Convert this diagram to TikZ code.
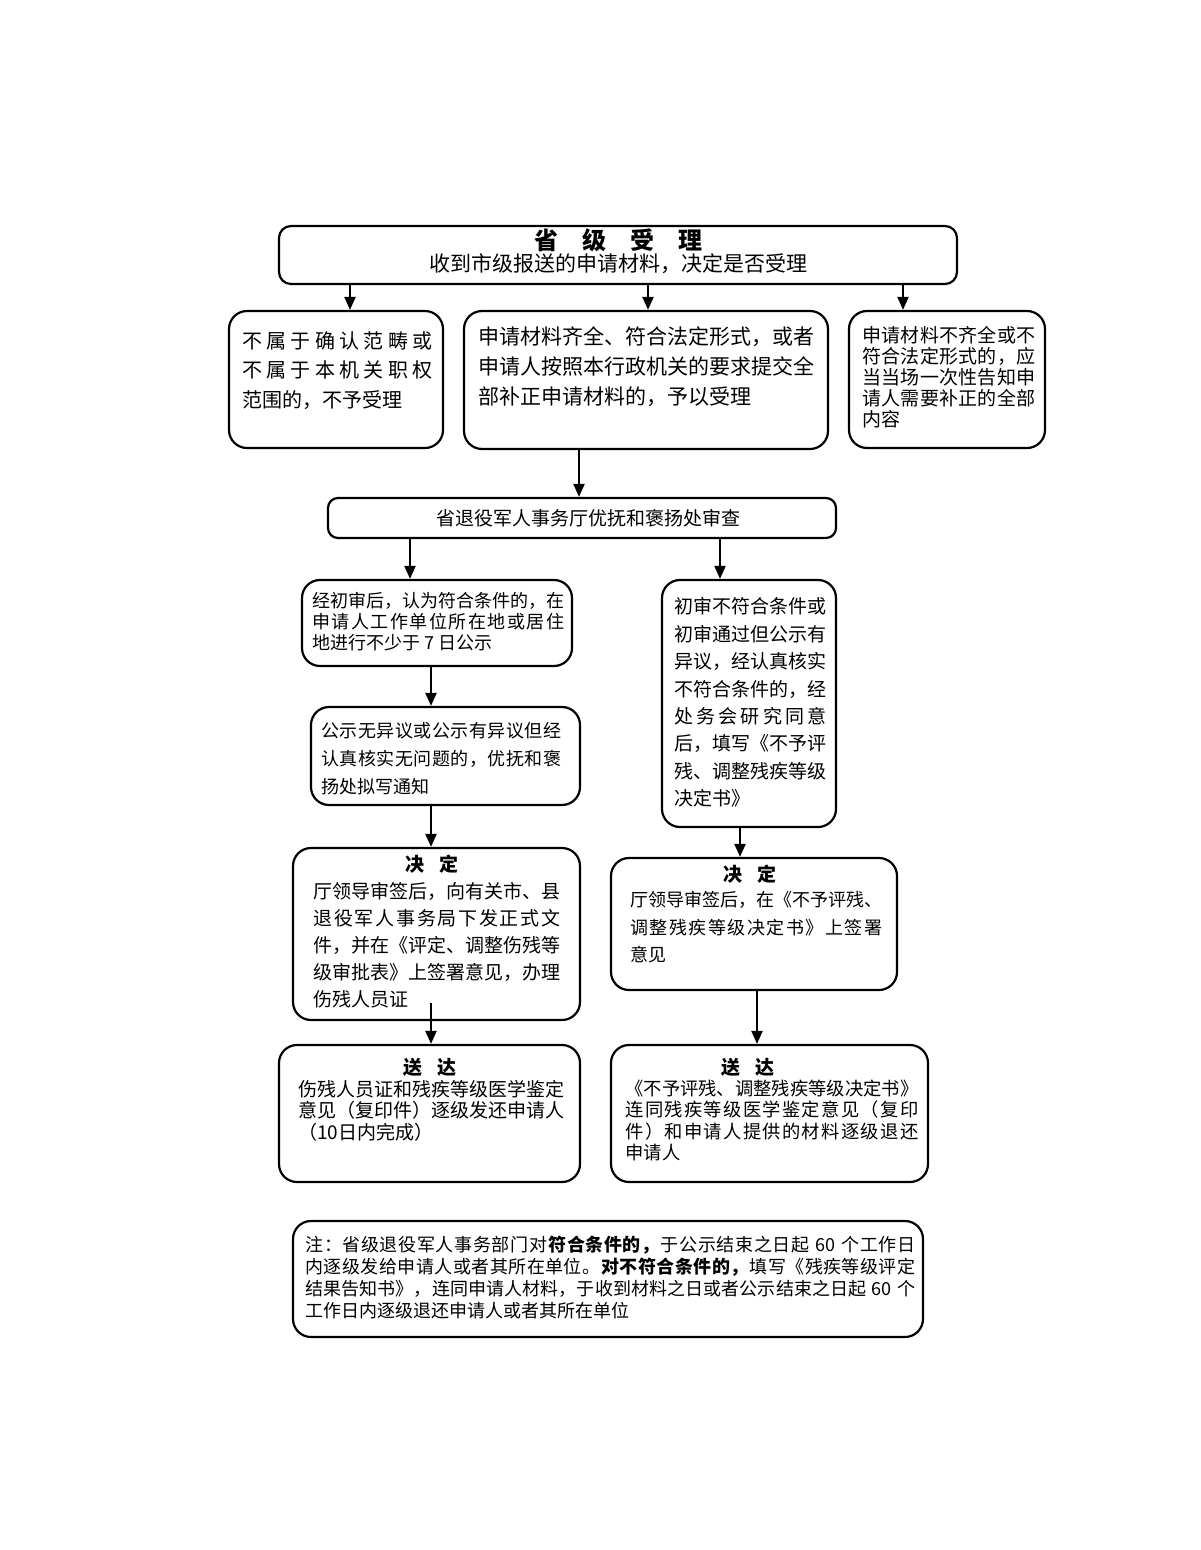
\documentclass[tikz,border=0pt]{standalone}
\usepackage{fontspec}
\setmainfont{Noto Sans CJK SC}
\usetikzlibrary{arrows.meta}
\def\myfirst#1{#1}
\def\mygobble#1{}
\def\spA#1#2{#1\ifx\relax#2\expandafter\mygobble\else\hfill\expandafter\myfirst\fi{\spA#2}}
\newcommand\jl[2]{\hbox to #1{\spA#2\relax}}
\newcommand\fs[2]{\fontsize{#1}{#2}\selectfont}
\def\sx{\hbox{\kern.3em 60\kern.3em}}
\tikzset{
 bx/.style={draw, line width=1.1pt, rounded corners=9pt, inner sep=0pt},
 tx/.style={anchor=north west, inner sep=0pt, align=left},
 ttl/.style={inner sep=0pt, font=\fs{9.5pt}{11pt}\bfseries},
 arr/.style={line width=1.1pt, -{Triangle[length=6.5pt,width=5.5pt]}},
}
\newcommand\mybox[6][]{\node[bx,#1, minimum width={(#4-#2)*0.5pt}, minimum height={(#5-#3)*0.5pt}] (#6) at ({(#2+#4)/2},{(#3+#5)/2}) {};}
\begin{document}
\begin{tikzpicture}[x=0.5pt,y=-0.5pt]
\useasboundingbox (0,0) rectangle (1200,1550);
% boxes
\mybox[rounded corners=6pt]{279}{226}{957}{284}{top}
\mybox{229}{311}{443}{448}{B1}
\mybox{464}{311}{828}{449}{B2}
\mybox{849}{311}{1045}{448}{B3}
\mybox[rounded corners=5pt]{328}{498}{836}{538}{rev}
\mybox{302}{580}{572}{666}{L1}
\mybox{662}{580}{836}{827}{R1}
\mybox{311}{707}{580}{805}{L2}
\mybox{293}{848}{580}{1020}{L3}
\mybox{611}{858}{897}{990}{R2}
\mybox{279}{1045}{580}{1182}{L4}
\mybox{611}{1045}{928}{1182}{R3}
\mybox{293}{1221}{923}{1337}{note}
% texts
\node[inner sep=0pt, font=\fs{12pt}{14pt}\bfseries] (topt) at (618,240) {省\hspace{1em}级\hspace{1em}受\hspace{1em}理};
\node[inner sep=0pt, font=\fs{10.5pt}{12pt}] (tops) at (618,264) {收到市级报送的申请材料，决定是否受理};
\node[tx, font=\fs{10pt}{14.75pt}] (t1) at (242,331) {\jl{95pt}{不属于确认范畴或}\\\jl{95pt}{不属于本机关职权}\\范围的，不予受理};
\node[tx, font=\fs{10.5pt}{15pt}] (t2) at (478,326.5) {\jl{168pt}{申请材料齐全、符合法定形式，或者}\\\jl{168pt}{申请人按照本行政机关的要求提交全}\\部补正申请材料的，予以受理};
\node[tx, font=\fs{9.5pt}{10.5pt}] (t3) at (862,326) {\jl{86.5pt}{申请材料不齐全或不}\\\jl{86.5pt}{符合法定形式的，应}\\\jl{86.5pt}{当当场一次性告知申}\\\jl{86.5pt}{请人需要补正的全部}\\内容};
\node[inner sep=0pt, font=\fs{9.5pt}{11pt}] (trev) at (588,518) {省退役军人事务厅优抚和褒扬处审查};
\node[tx, font=\fs{9pt}{10.5pt}] (tl1) at (312,592) {\jl{126pt}{经初审后，认为符合条件的，在}\\\jl{126pt}{申请人工作单位所在地或居住}\\地进行不少于 7 日公示};
\node[tx, font=\fs{9.5pt}{13.7pt}] (tr1) at (674,597.5) {\jl{76pt}{初审不符合条件或}\\\jl{76pt}{初审通过但公示有}\\\jl{76pt}{异议，经认真核实}\\\jl{76pt}{不符合条件的，经}\\\jl{76pt}{处务会研究同意}\\\jl{76pt}{后，填写《不予评}\\\jl{76pt}{残、调整残疾等级}\\决定书》};
\node[tx, font=\fs{9pt}{14pt}] (tl2) at (321,722) {\jl{120pt}{公示无异议或公示有异议但经}\\\jl{120pt}{认真核实无问题的，优抚和褒}\\扬处拟写通知};
\node[ttl] (hl3) at (432,864) {决\hspace{0.8em}定};
\node[tx, font=\fs{9.5pt}{13.6pt}] (tl3) at (313,881.5) {\jl{123.5pt}{厅领导审签后，向有关市、县}\\\jl{123.5pt}{退役军人事务局下发正式文}\\\jl{123.5pt}{件，并在《评定、调整伤残等}\\\jl{123.5pt}{级审批表》上签署意见，办理}\\伤残人员证};
\node[ttl] (hr2) at (750,874) {决\hspace{0.8em}定};
\node[tx, font=\fs{9pt}{13.75pt}] (tr2) at (630,891) {\jl{126pt}{厅领导审签后，在《不予评残、}\\\jl{126pt}{调整残疾等级决定书》上签署}\\意见};
\node[ttl] (hl4) at (430,1067) {送\hspace{0.8em}达};
\node[tx, font=\fs{9.5pt}{10.75pt}] (tl4) at (298,1079.5) {\jl{133pt}{伤残人员证和残疾等级医学鉴定}\\\jl{133pt}{意见（复印件）逐级发还申请人}\\（10日内完成）};
\node[ttl] (hr3) at (748,1067) {送\hspace{0.8em}达};
\node[tx, font=\fs{9.15pt}{10.75pt}] (tr3) at (625,1079.5) {\jl{146.5pt}{《不予评残、调整残疾等级决定书》}\\\jl{146.5pt}{连同残疾等级医学鉴定意见（复印}\\\jl{146.5pt}{件）和申请人提供的材料逐级退还}\\申请人};
\node[tx, font=\fs{9pt}{11pt}] (tnote) at (305,1236) {\jl{305pt}{注：省级退役军人事务部门对\bfseries 符合条件的，\mdseries 于公示结束之日起\sx 个工作日}\\\jl{305pt}{内逐级发给申请人或者其所在单位。\bfseries 对不符合条件的，\mdseries 填写《残疾等级评定}\\\jl{305pt}{结果告知书》，连同申请人材料，于收到材料之日或者公示结束之日起\sx 个}\\工作日内逐级退还申请人或者其所在单位};
% arrow coordinates
\coordinate (c350) at (350,0);
\coordinate (c648) at (648,0);
\coordinate (c903) at (903,0);
\coordinate (c579) at (579,0);
\coordinate (c410) at (410,0);
\coordinate (c720) at (720,0);
\coordinate (c431) at (431,0);
\coordinate (c740) at (740,0);
\coordinate (c757) at (757,0);
\coordinate (s431) at (431,1003);
\draw[arr] (top.south -| c350) -- (B1.north -| c350);
\draw[arr] (top.south -| c648) -- (B2.north -| c648);
\draw[arr] (top.south -| c903) -- (B3.north -| c903);
\draw[arr] (B2.south -| c579) -- (rev.north -| c579);
\draw[arr] (rev.south -| c410) -- (L1.north -| c410);
\draw[arr] (rev.south -| c720) -- (R1.north -| c720);
\draw[arr] (L1.south -| c431) -- (L2.north -| c431);
\draw[arr] (L2.south -| c431) -- (L3.north -| c431);
\draw[arr] (R1.south -| c740) -- (R2.north -| c740);
\draw[arr] (R2.south -| c757) -- (R3.north -| c757);
\draw[arr] (s431) -- (L4.north -| s431);
\end{tikzpicture}
\end{document}
